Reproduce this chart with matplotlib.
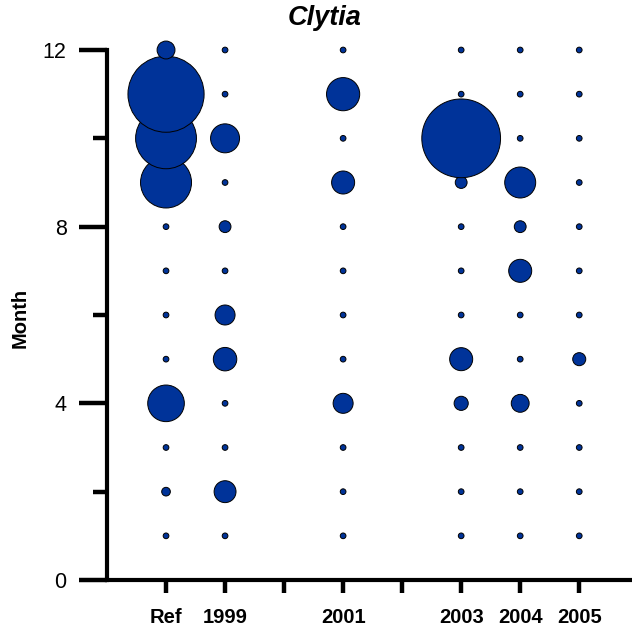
import numpy as np
import matplotlib
matplotlib.use('Agg')
from matplotlib import pyplot

# DATA
# months sampled (y axis) and the x slots (2000 and 2002 have no samples)
months = list(range(1, 13))
slots = ['Ref', '1999', '', '2001', '', '2003', '2004', '2005']

# relative abundance per month (Jan..Dec), 0 = sampled but absent
abund = {
	'Ref':  [0, 0.75, 0, 13.4, 0, 0, 0, 0, 26.0, 37.0, 58.0, 3.2],
	'1999': [0, 4.8, 0, 0, 5.5, 4.0, 0, 1.4, 0, 8.4, 0, 0],
	'2001': [0, 0, 0, 4.0, 0, 0, 0, 0, 5.3, 0, 11.0, 0],
	'2003': [0, 0, 0, 2.0, 5.3, 0, 0, 0, 1.4, 62.0, 0, 0],
	'2004': [0, 0, 0, 3.2, 0, 0, 5.3, 1.4, 9.6, 0, 0, 0],
	'2005': [0, 0, 0, 0, 1.7, 0, 0, 0, 0, 0, 0, 0],
}

FILL = '#003399'
FONT = 'Liberation Sans'
pyplot.rcParams['font.family'] = [FONT, 'DejaVu Sans']

# figure of 632 x 632 px
dpi = 100.0
fig = pyplot.figure(figsize=(6.32, 6.32), dpi=dpi)
W = 632.0
ax = fig.add_axes([107/W, 52/W, (630-107)/W, (580-50)/W])

# bubble sizes: diameter (px) grows with sqrt of abundance, tiny dot for zero
for col, vals in abund.items():
	xpos = slots.index(col) + 1
	vals = np.array(vals, dtype=float)
	diam_px = np.where(vals > 0, 10.0 * np.sqrt(vals), 5.7)
	siz = (diam_px * 72.0 / dpi) ** 2
	ax.scatter(np.full(len(months), xpos), months, s=siz, c=FILL,
			edgecolors='black', linewidths=0.7, clip_on=False, zorder=3)

# AXES
ax.set_xlim(0, 8.86)
ax.set_ylim(0, 12)
for side in ['top', 'right']:
	ax.spines[side].set_visible(False)
for side in ['left', 'bottom']:
	ax.spines[side].set_linewidth(3.0)

ax.set_xticks(range(1, len(slots) + 1))
ax.set_xticklabels(slots, fontsize=14.5, fontweight='bold')
ax.tick_params(axis='x', direction='out', length=9, width=3.2, pad=11)

ax.set_yticks([0, 4, 8, 12])
ax.set_yticks([2, 6, 10], minor=True)
ax.tick_params(axis='y', which='major', direction='out', length=20, width=3.2,
			pad=9, labelsize=15.5)
ax.tick_params(axis='y', which='minor', direction='out', length=10, width=3.2)

# TEXT
fig.text(325/W, 1 - 25/W, 'Clytia', fontsize=19.5, fontweight='bold',
		fontstyle='italic', ha='center', va='baseline')
fig.text(20/W, 1 - 318/W, 'Month', fontsize=14.5, fontweight='bold',
		rotation=90, ha='center', va='center')

fig.savefig('out.png', dpi=dpi)
